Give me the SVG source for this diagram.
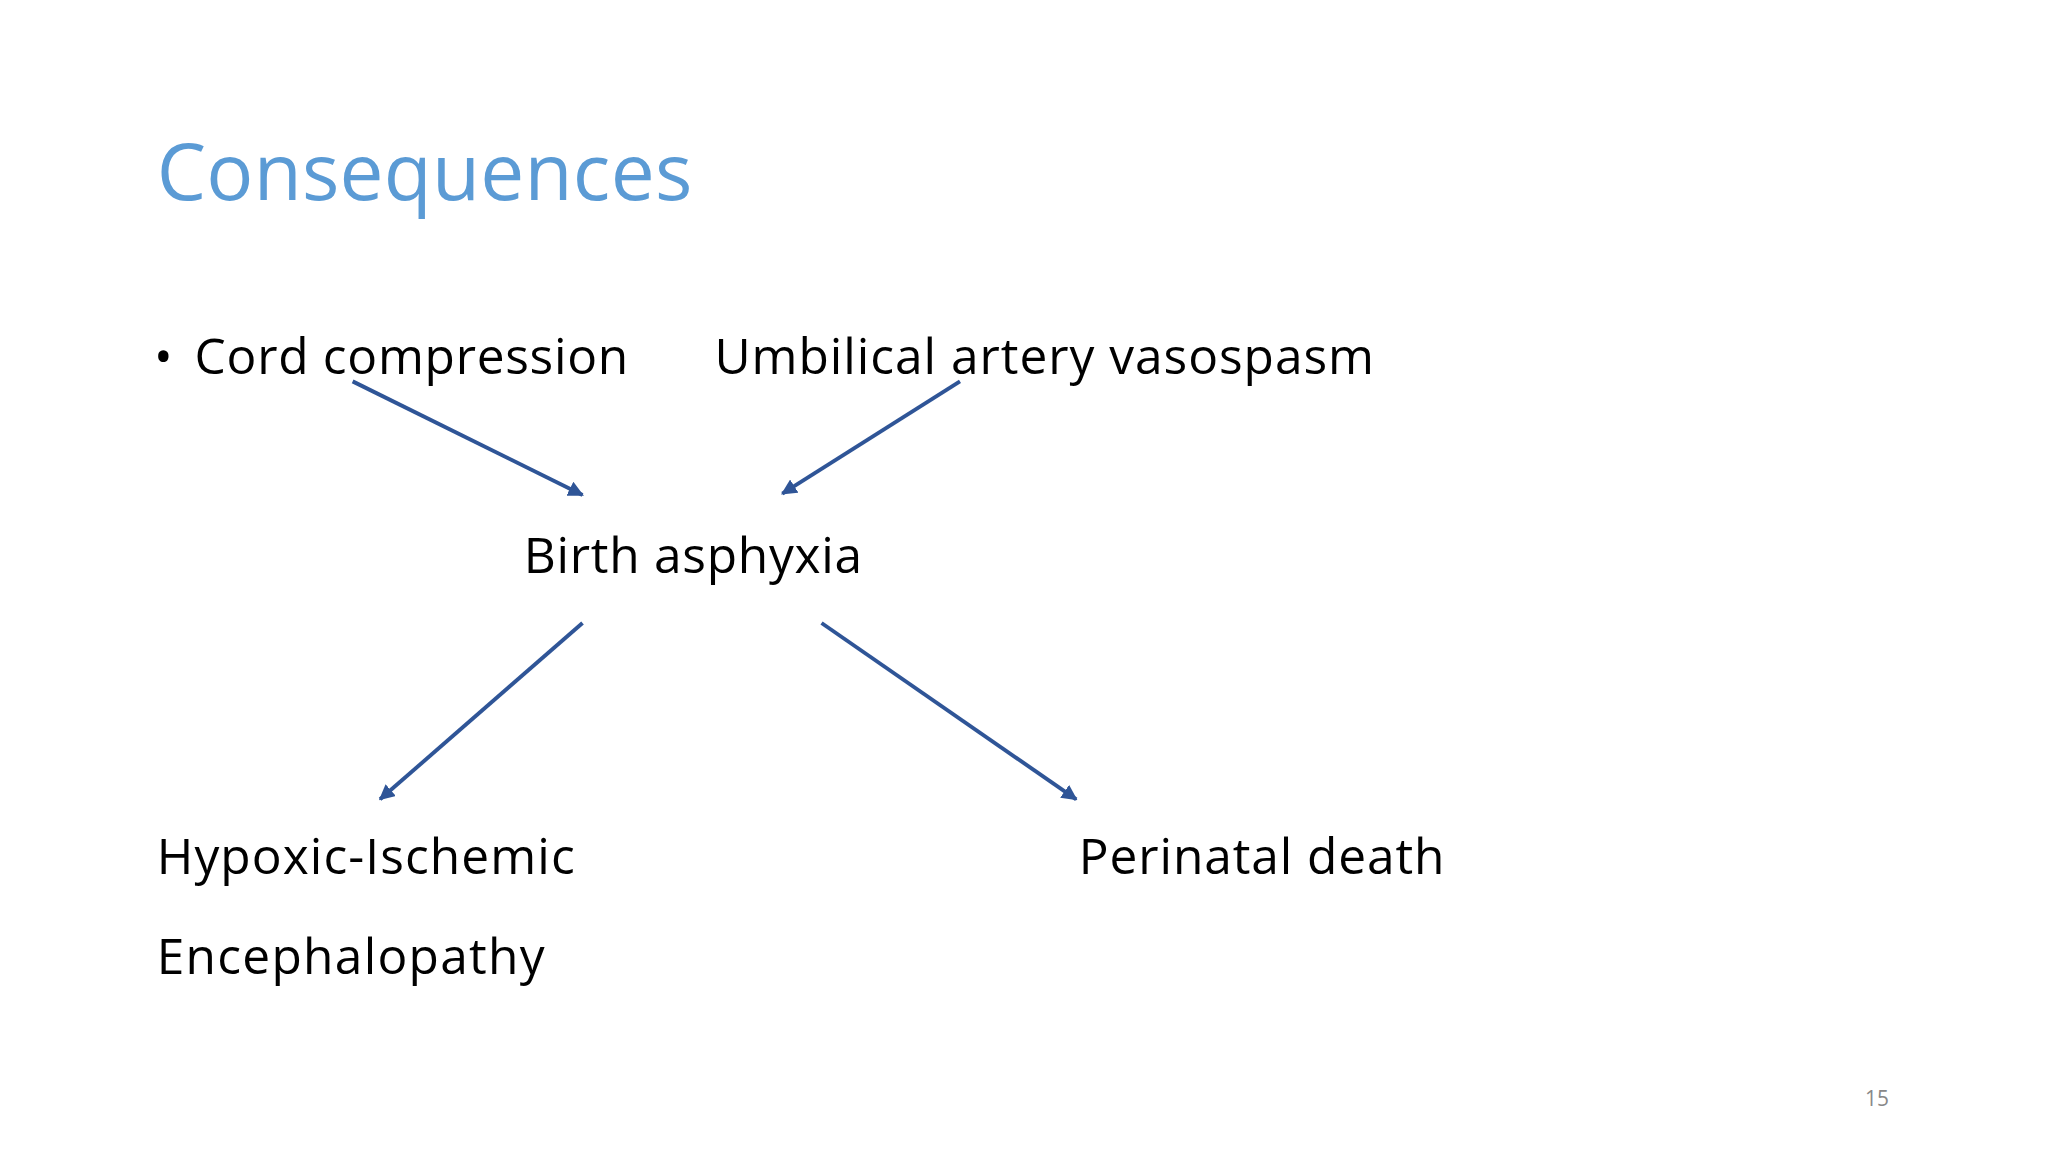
<svg xmlns="http://www.w3.org/2000/svg" width="2048" height="1152" viewBox="0 0 2048 1152">
<style>
.t{font-family:"Open Sans","Liberation Sans",sans-serif;fill:#000;font-size:38px}
.c{stroke:#2F5597;stroke-width:3;fill:none;marker-end:url(#ah)}
</style>
<defs><marker id="ah" viewBox="0 0 10 10" refX="9" refY="5" markerWidth="4" markerHeight="4" orient="auto" markerUnits="strokeWidth"><path d="M0,0L10,5L0,10z" fill="#2F5597"/></marker></defs>
<rect width="2048" height="1152" fill="#fff"/>
<g transform="scale(1.3061)">
<text x="120" y="153" style="font-family:'Open Sans','Liberation Sans',sans-serif;font-size:60px;fill:#5B9BD5" textLength="410">Consequences</text>
<g id="n1"><text class="t" x="118" y="286">•</text><text class="t" x="149" y="286" textLength="332">Cord compression</text></g>
<g id="n2"><text class="t" x="547" y="286" textLength="505">Umbilical artery vasospasm</text></g>
<g id="n3"><text class="t" x="401" y="439" textLength="259">Birth asphyxia</text></g>
<g id="n4"><text class="t" x="120" y="669" textLength="320">Hypoxic-Ischemic</text><text class="t" x="120" y="746" textLength="297">Encephalopathy</text></g>
<g id="n5"><text class="t" x="826" y="669" textLength="280">Perinatal death</text></g>
<text x="1428" y="847" style="font-family:'Open Sans','Liberation Sans',sans-serif;font-size:16px;fill:#888">15</text>
<g id="connectors">
<line class="c" x1="270" y1="292" x2="446" y2="379"/>
<line class="c" x1="735" y1="292" x2="599" y2="378"/>
<line class="c" x1="446" y1="477" x2="291" y2="612"/>
<line class="c" x1="629" y1="477" x2="824" y2="612"/>
</g>
</g>
</svg>
